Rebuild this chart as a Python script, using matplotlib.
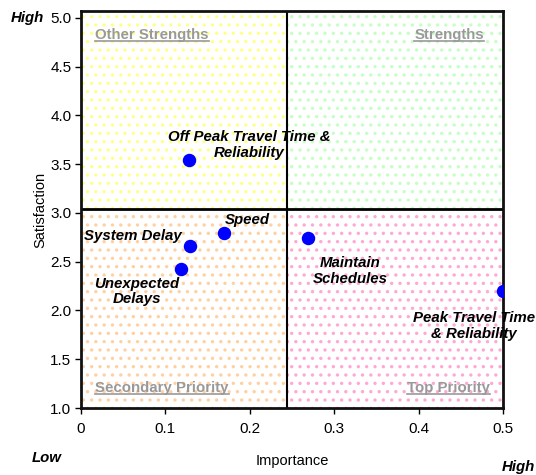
import matplotlib
matplotlib.use("Agg")
import matplotlib.pyplot as plt
from matplotlib.patches import Rectangle
from matplotlib.lines import Line2D

plt.rcParams['font.family'] = ['Liberation Sans', 'DejaVu Sans']
plt.rcParams['hatch.linewidth'] = 1.2

labels = ["Off Peak Travel Time &\nReliability", "System Delay", "Speed",
          "Unexpected\nDelays", "Maintain\nSchedules", "Peak Travel Time\n& Reliability"]
importance = [0.128, 0.129, 0.169, 0.118, 0.269, 0.500]
satisfaction = [3.54, 2.66, 2.79, 2.43, 2.74, 2.20]
xticks = [0, 0.1, 0.2, 0.3, 0.4, 0.5]
xticklabels = ["0", "0.1", "0.2", "0.3", "0.4", "0.5"]
yticks = [1.0, 1.5, 2.0, 2.5, 3.0, 3.5, 4.0, 4.5, 5.0]
yticklabels = ["1.0", "1.5", "2.0", "2.5", "3.0", "3.5", "4.0", "4.5", "5.0"]
x_split = 0.244
y_split = 3.04
quadrants = ["Other Strengths", "Strengths", "Secondary Priority", "Top Priority"]

offsets = [(60, 15, 'center'), (-8, 10, 'right'), (1, 13, 'left'),
           (-44, -23, 'center'), (42, -33, 'center'), (-29, -35, 'center')]

fig = plt.figure(figsize=(5.36, 4.75), dpi=100)
ax = fig.add_axes([81/536, 1-408/475, 422/536, (408-11)/475])
xmin, xmax, ymin, ymax = 0, 0.5, 1.0, 5.07
ax.set_xlim(xmin, xmax)
ax.set_ylim(ymin, ymax)

cols = ['#ffff88', '#c4ffc4', '#ffd0a0', '#ffa8d4']
rects = [(xmin, y_split, x_split - xmin, ymax - y_split),
         (x_split, y_split, xmax - x_split, ymax - y_split),
         (xmin, ymin, x_split - xmin, y_split - ymin),
         (x_split, ymin, xmax - x_split, y_split - ymin)]
for (x0, y0, w, h), c in zip(rects, cols):
    ax.add_patch(Rectangle((x0, y0), w, h, facecolor='white', edgecolor=c,
                           hatch='..', linewidth=0, zorder=0))

ax.axvline(x_split, color='black', lw=1.5, zorder=1)
ax.axhline(y_split, color='black', lw=2.0, zorder=1)
for s in ax.spines.values():
    s.set_linewidth(2.0)
    s.set_color('#111111')

ax.scatter(importance, satisfaction, s=75, color='#0000ff', zorder=3)
for lab, x, y, (dx, dy, ha) in zip(labels, importance, satisfaction, offsets):
    ax.annotate(lab, (x, y), xytext=(dx, dy), textcoords='offset pixels',
                ha=ha, va='center', fontsize=10.8, fontweight='bold',
                fontstyle='italic', multialignment='center',
                annotation_clip=False, zorder=4, linespacing=1.15)

ax.set_xticks(xticks)
ax.set_xticklabels(xticklabels, fontsize=11)
ax.set_yticks(yticks)
ax.set_yticklabels(yticklabels, fontsize=11)
ax.tick_params(axis='x', length=4, width=1, pad=6)
ax.tick_params(axis='y', length=4, width=1, pad=3)

ax.set_xlabel("Importance", fontsize=10.5, labelpad=13)
ax.set_ylabel("Satisfaction", fontsize=10.5, labelpad=2)

bi = dict(fontsize=10.8, fontweight='bold', fontstyle='italic')
fig.text(11/536, 1-18/475, "High", ha='left', va='center', **bi)
fig.text(32/536, 1-458/475, "Low", ha='left', va='center', **bi)
fig.text(502/536, 1-467/475, "High", ha='left', va='center', **bi)

qpos = [(95, 35, 'left'), (484, 35, 'right'), (95, 388, 'left'), (490, 388, 'right')]
qtexts = []
for q, (px, py, ha) in zip(quadrants, qpos):
    t = fig.text(px/536, 1-py/475, q, ha=ha, va='center', fontsize=10.8,
                 fontweight='bold', color='#999999', zorder=5)
    qtexts.append(t)

fig.canvas.draw()
r = fig.canvas.get_renderer()
for t in qtexts:
    bb = t.get_window_extent(r)
    yline = (bb.y0 + 1) / 475
    fig.add_artist(Line2D([bb.x0/536, bb.x1/536], [yline, yline],
                          color='#999999', lw=1.2))

fig.savefig("out.png", dpi=100)
